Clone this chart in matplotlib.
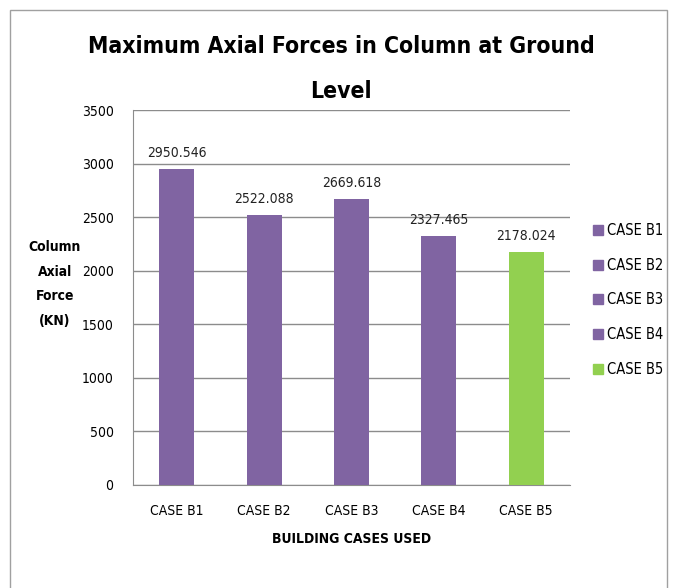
import matplotlib.pyplot as plt
from matplotlib.patches import Rectangle
from matplotlib.lines import Line2D

cases = ['CASE B1', 'CASE B2', 'CASE B3', 'CASE B4', 'CASE B5']
forces = [2950.546, 2522.088, 2669.618, 2327.465, 2178.024]
colors = ['#8064A2', '#8064A2', '#8064A2', '#8064A2', '#92D050']
yticks = [0, 500, 1000, 1500, 2000, 2500, 3000, 3500]

plt.rcParams['font.family'] = ['DejaVu Sans']
plt.rcParams['font.stretch'] = 'condensed'

fig = plt.figure(figsize=(6.73, 5.88), dpi=100)
fig.patches.append(Rectangle((10 / 673, -0.01), 657 / 673, 1 - 10 / 588 + 0.01,
                             transform=fig.transFigure, fill=False,
                             edgecolor='#a0a0a0', linewidth=1))

ax = fig.add_axes([133 / 673, 103 / 588, 437 / 673, 375 / 588])
x = range(len(cases))
ax.bar(x, forces, width=0.4, color=colors, zorder=3)
for xi, v in zip(x, forces):
    ax.text(xi, v + 85, str(v), ha='center', va='bottom', fontsize=10, color='#222222')

ax.set_ylim(0, 3500)
ax.set_xlim(-0.5, 4.5)
ax.set_yticks(yticks)
ax.set_xticks(list(x))
ax.set_xticklabels(cases, fontsize=10)
ax.tick_params(axis='y', labelsize=10, length=0, pad=14)
ax.tick_params(axis='x', length=0, pad=14)
ax.grid(axis='y', color='#8c8c8c', linewidth=1, zorder=0)
for s in ['top', 'right']:
    ax.spines[s].set_visible(False)
ax.spines['left'].set_color('#8c8c8c')
ax.spines['bottom'].set_color('#8c8c8c')

ax.set_xlabel('BUILDING CASES USED', fontsize=10, fontweight='bold', labelpad=10)
fig.text(55 / 673, 1 - 284 / 588, 'Column\nAxial\nForce\n(KN)', ha='center',
         va='center', fontsize=10, fontweight='bold', linespacing=1.95)

fig.text(341 / 673, 1 - 69 / 588, 'Maximum Axial Forces in Column at Ground\nLevel',
         ha='center', va='center', fontsize=16.5, fontweight='bold', linespacing=2.2)

handles = [Line2D([], [], marker='s', linestyle='', markersize=7, color=c) for c in colors]
fig.legend(handles, cases, loc='center left', bbox_to_anchor=(578 / 673, 1 - 300 / 588),
           frameon=False, fontsize=10.5, handletextpad=0.1, labelspacing=1.35,
           handlelength=1.0)

fig.savefig('out.png', dpi=100)
